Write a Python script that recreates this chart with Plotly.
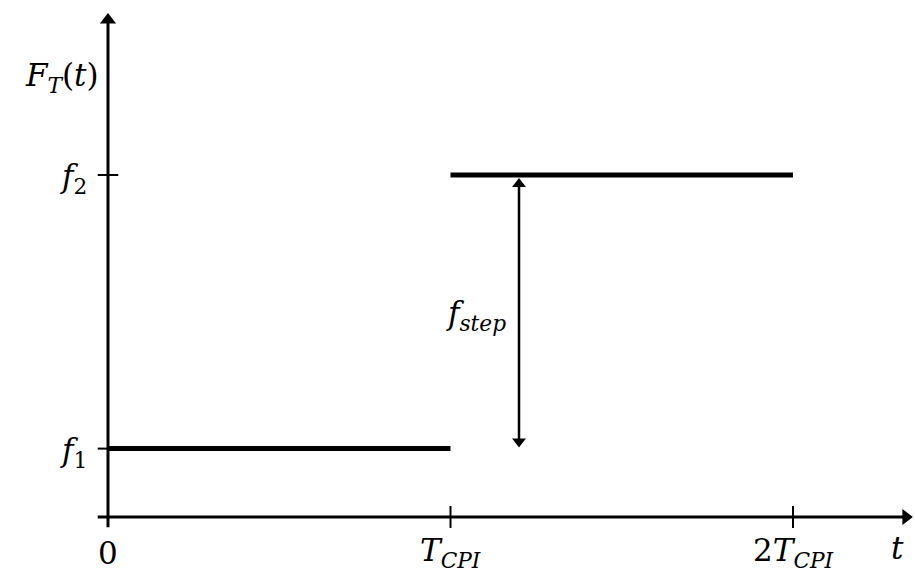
import plotly.graph_objects as go

# ---- data ----
times = [0, 1, 2]
time_labels = ["0", "<i>T</i><sub><i>CPI</i></sub>", "2<i>T</i><sub><i>CPI</i></sub>"]
levels = [1, 5]
level_labels = ["<i>f</i><sub>1</sub>", "<i>f</i><sub>2</sub>"]
step_x = 1.2
y_label = "<i>F</i><sub><i>T</i></sub>(<i>t</i>)"
x_label = "<i>t</i>"
step_label = "<i>f</i><sub><i>step</i></sub>"

FONT = "DejaVu Serif"
FS = 31
XU, YU = 342.5, 68.4  # px per data unit (for arrowhead offsets)

fig = go.Figure()


def line(xs, ys, w):
    fig.add_trace(go.Scatter(x=xs, y=ys, mode="lines", line=dict(color="black", width=w),
                             showlegend=False, hoverinfo="skip"))


def head(x, y, sym, size):
    fig.add_trace(go.Scatter(x=[x], y=[y], mode="markers",
                             marker=dict(symbol=sym, size=size, color="black", line=dict(width=0)),
                             showlegend=False, hoverinfo="skip"))


# axes
x_tip, y_tip = 2.350, 7.368
line([-0.03, x_tip - 6 / XU], [0, 0], 3)
line([0, 0], [-0.15, y_tip - 6 / YU], 3)
head(x_tip - 7 / XU, 0, "triangle-right", 14)
head(0, y_tip - 7 / YU, "triangle-up", 14)

# step segments
line([times[0], times[1]], [levels[0], levels[0]], 5)
line([times[1], times[2]], [levels[1], levels[1]], 5)

# double arrow f_step
top = levels[1] - 3 / YU
bot = levels[0] + 1 / YU
line([step_x, step_x], [bot + 6 / YU, top - 6 / YU], 2.5)
head(step_x, top - 6 / YU, "triangle-up", 12)
head(step_x, bot + 6 / YU, "triangle-down", 12)

shapes = []
# ticks crossing axes
for t in times[1:]:
    shapes.append(dict(type="line", xref="x", yref="y", x0=t, x1=t, y0=-0.16, y1=0.16,
                       line=dict(color="black", width=2)))
for lv in levels:
    shapes.append(dict(type="line", xref="x", yref="y", x0=-0.03, x1=0.03, y0=lv, y1=lv,
                       line=dict(color="black", width=2)))

ann = []
for t, lab in zip(times, time_labels):
    ann.append(dict(x=t, y=-0.52, xref="x", yref="y", text=lab, showarrow=False,
                    xanchor="center", yanchor="middle",
                    font=dict(family=FONT, size=FS, color="black")))
for lv, lab in zip(levels, level_labels):
    ann.append(dict(x=-0.055, y=lv - 0.05, xref="x", yref="y", text=lab, showarrow=False,
                    xanchor="right", yanchor="middle",
                    font=dict(family=FONT, size=FS, color="black")))

ann.append(dict(x=-0.02, y=6.42, xref="x", yref="y", text=y_label, showarrow=False,
                xanchor="right", yanchor="middle", font=dict(family=FONT, size=FS, color="black")))
ann.append(dict(x=2.305, y=-0.45, xref="x", yref="y", text=x_label, showarrow=False,
                xanchor="center", yanchor="middle", font=dict(family=FONT, size=FS, color="black")))
ann.append(dict(x=1.168, y=2.95, xref="x", yref="y", text=step_label, showarrow=False,
                xanchor="right", yanchor="middle", font=dict(family=FONT, size=FS, color="black")))

fig.update_layout(
    width=915, height=572, autosize=False,
    margin=dict(l=0, r=0, t=0, b=0),
    paper_bgcolor="white", plot_bgcolor="white",
    xaxis=dict(visible=False, range=[-0.3153, 2.3562], fixedrange=True),
    yaxis=dict(visible=False, range=[-0.804, 7.558], fixedrange=True),
    annotations=ann, shapes=shapes, showlegend=False,
)

fig.write_html("out.html", config={"displayModeBar": False},
               post_script="document.body.style.margin='0';document.body.style.overflow='hidden';")
